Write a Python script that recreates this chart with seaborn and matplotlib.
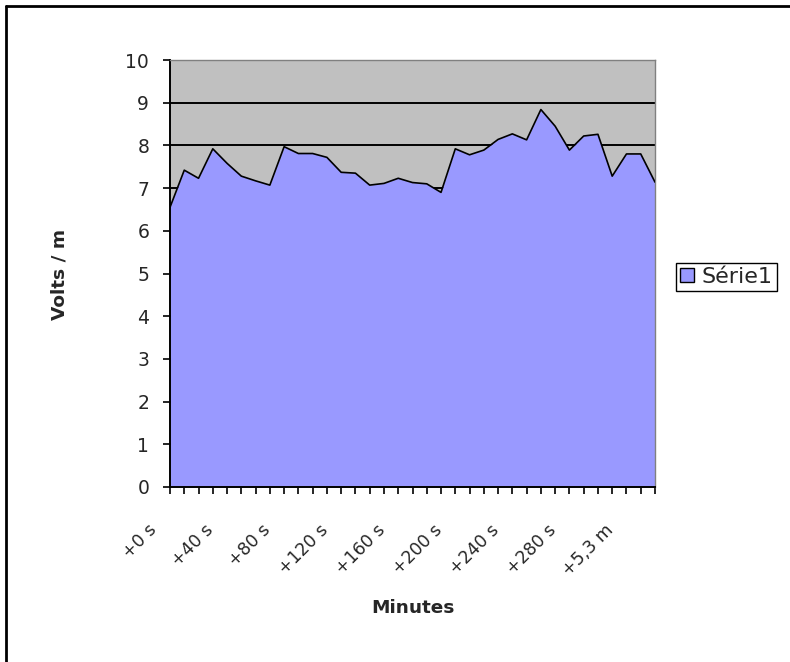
import numpy as np
import pandas as pd
import matplotlib
matplotlib.use("Agg")
import matplotlib.pyplot as plt
import matplotlib.transforms as mtransforms
import seaborn as sns
from matplotlib.lines import Line2D
from matplotlib.patches import Patch

# Time stamps of each measurement (10 s apart, minutes from 5 min on)
categories = [f"+{10 * i} s" for i in range(30)] + ["+5 m", "+5,2 m", "+5,3 m", "+5,5 m", "+5,7 m"]

# Field strength readings, Volts / m
volts = [6.55, 7.42, 7.23, 7.92, 7.58, 7.28, 7.17, 7.07, 7.97, 7.81,
         7.81, 7.72, 7.37, 7.35, 7.07, 7.11, 7.23, 7.13, 7.10, 6.90,
         7.92, 7.78, 7.89, 8.14, 8.27, 8.13, 8.84, 8.45, 7.89, 8.22,
         8.26, 7.28, 7.80, 7.80, 7.14]

series_name = "Série1"
x_title = "Minutes"
y_title = "Volts / m"

sns.set_theme(style="white")
plt.rcParams["font.family"] = ["DejaVu Sans"]

fig = plt.figure(figsize=(7.9, 6.62), dpi=100)
ax = fig.add_axes([170 / 790, 1 - 487 / 662, 485 / 790, 427 / 662])

df = pd.DataFrame({"pos": np.arange(len(categories)), "volts": volts})

ax.set_facecolor("#C0C0C0")
ax.fill_between(df["pos"], 0, df["volts"], color="#9999FF", lw=0, zorder=2)
sns.lineplot(data=df, x="pos", y="volts", color="black", lw=1.2, ax=ax, zorder=3)

ax.set_xlim(0, len(categories) - 1)
ax.set_ylim(0, 10)
ax.set_yticks(range(0, 11))
ax.yaxis.grid(True, color="black", lw=1.4)
ax.xaxis.grid(False)
ax.set_axisbelow(True)

ax.set_xticks(df["pos"])
ax.set_xticklabels([c if i % 4 == 0 else "" for i, c in enumerate(categories)],
                   rotation=45, ha="right", va="center", rotation_mode="anchor")
ax.tick_params(axis="x", direction="out", length=5, width=1.2, color="black",
               labelsize=12.5, pad=24, bottom=True)
ax.tick_params(axis="y", direction="out", length=5, width=1.2, color="black",
               labelsize=13.5, pad=10, left=True)

# Category labels sit to the lower left of their tick mark
shift = mtransforms.ScaledTranslation(-16 / 100, 0, fig.dpi_scale_trans)
for lab in ax.get_xticklabels():
    lab.set_transform(lab.get_transform() + shift)

for side in ("left", "bottom"):
    ax.spines[side].set_color("black")
    ax.spines[side].set_linewidth(1.4)
for side in ("top", "right"):
    ax.spines[side].set_color("#808080")
    ax.spines[side].set_linewidth(1.0)

ax.set_xlabel(x_title, fontsize=13.3, fontweight="bold")
ax.set_ylabel(y_title, fontsize=13.3, fontweight="bold")
ax.xaxis.set_label_coords(0.5, (487 - 608) / 427)
ax.xaxis.label.set_va("center")
ax.yaxis.set_label_coords((60 - 170) / 485, (487 - 274) / 427)
ax.yaxis.label.set_va("center")

handle = Patch(facecolor="#9999FF", edgecolor="black", lw=1, label=series_name)
fig.legend(handles=[handle], loc="center left",
           bbox_to_anchor=(676 / 790, 1 - 277 / 662),
           frameon=True, fancybox=False, edgecolor="black", framealpha=1,
           fontsize=16, handlelength=0.6, handleheight=0.6, handletextpad=0.35,
           borderpad=0.2, borderaxespad=0)

# Chart frame on the top and left edges
fig.add_artist(Line2D([6 / 790, 6 / 790], [0, 1 - 6 / 662], color="black", lw=2,
                      transform=fig.transFigure))
fig.add_artist(Line2D([6 / 790, 1], [1 - 6 / 662, 1 - 6 / 662], color="black", lw=2,
                      transform=fig.transFigure))

fig.savefig("out.png", dpi=100, facecolor="white")
